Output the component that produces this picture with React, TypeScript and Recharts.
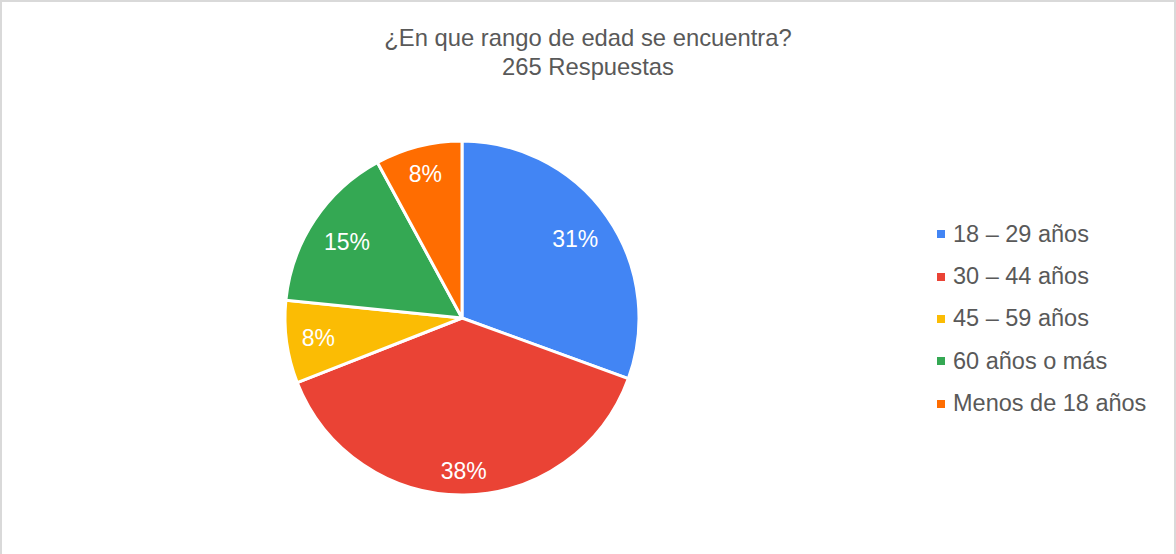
import React from "react";
import { PieChart, Pie, Cell, Legend } from "recharts";

const categories = ["18 – 29 años", "30 – 44 años", "45 – 59 años", "60 años o más", "Menos de 18 años"];
const responses = [81, 102, 20, 41, 21];
const colors = ["#4285F4", "#EA4335", "#FBBC04", "#34A853", "#FF6D01"];
const titleLines = ["¿En que rango de edad se encuentra?", "265 Respuestas"];

const FONT = "'Liberation Sans', Arial, sans-serif";
const RAD = Math.PI / 180;
const LABEL_SIZE = 23;

const data = categories.map((name, i) => ({ name, value: responses[i] }));

// push the label box out along the bisector until its far corner touches ~0.92R
function renderLabel(props: any) {
  const { cx, cy, midAngle, outerRadius, percent } = props;
  const text = `${Math.round(percent * 100)}%`;
  const halfW = ((text.length - 1) * 0.556 + 0.889) * LABEL_SIZE / 2;
  const halfH = 10;
  const dx = Math.cos(-midAngle * RAD);
  const dy = Math.sin(-midAngle * RAD);
  const r = outerRadius * 0.92 - (Math.abs(dx) * halfW + Math.abs(dy) * halfH);
  return (
    <text
      x={cx + r * dx}
      y={cy + r * dy}
      fill="#ffffff"
      textAnchor="middle"
      dominantBaseline="central"
      fontSize={LABEL_SIZE}
      fontFamily={FONT}
    >
      {text}
    </text>
  );
}

function renderLegend() {
  return (
    <div style={{ fontFamily: FONT, fontSize: 23.5, color: "#595959" }}>
      {categories.map((c, i) => (
        <div key={c} style={{ display: "flex", alignItems: "center", height: 42.4 }}>
          <span style={{ width: 8, height: 8, background: colors[i], marginRight: 8, display: "inline-block" }} />
          <span>{c}</span>
        </div>
      ))}
    </div>
  );
}

export default function App(): React.ReactElement {
  return (
    <div style={{ position: "absolute", left: 0, top: 0, width: 1176, height: 554, background: "#fff", overflow: "hidden" }}>
      <div
        style={{
          position: "absolute",
          left: 0,
          top: 0,
          width: 1172,
          height: 560,
          borderTop: "2px solid #d9d9d9",
          borderLeft: "2px solid #d9d9d9",
          borderRight: "2px solid #d9d9d9",
          boxSizing: "content-box",
          pointerEvents: "none",
        }}
      />
      <div
        style={{
          position: "absolute",
          left: 0,
          top: 23,
          width: 1176,
          textAlign: "center",
          fontFamily: FONT,
          fontSize: 23.8,
          lineHeight: "29px",
          color: "#595959",
        }}
      >
        {titleLines.map((t) => (
          <div key={t}>{t}</div>
        ))}
      </div>
      <PieChart
        width={1176}
        height={554}
        margin={{ top: 0, right: 0, bottom: 0, left: 0 }}
        style={{ position: "absolute", left: 0, top: 0 }}
      >
        <Pie
          data={data}
          dataKey="value"
          nameKey="name"
          cx={462}
          cy={318}
          outerRadius={177}
          startAngle={90}
          endAngle={-270}
          stroke="#ffffff"
          strokeWidth={3}
          label={renderLabel}
          labelLine={false}
          isAnimationActive={false}
        >
          {data.map((d, i) => (
            <Cell key={d.name} fill={colors[i]} />
          ))}
        </Pie>
        <Legend
          layout="vertical"
          align="right"
          verticalAlign="top"
          content={renderLegend}
          wrapperStyle={{ left: 937, top: 213, width: 239 }}
        />
      </PieChart>
    </div>
  );
}
